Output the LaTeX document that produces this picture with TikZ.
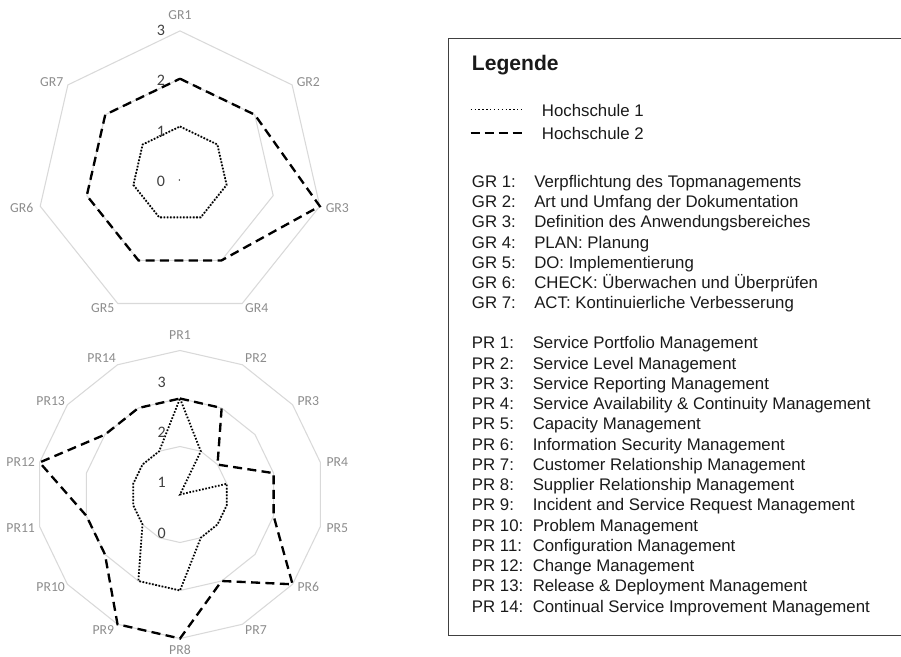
\documentclass[tikz,border=0pt]{standalone}
\usepackage{fontspec}
\setmainfont{Liberation Sans}
\newfontfamily\calfont{Carlito}
\definecolor{gridgray}{HTML}{D9D9D9}
\definecolor{labgray}{HTML}{8C8C8C}
\definecolor{numgray}{HTML}{404040}
\definecolor{legblack}{HTML}{1A1A1A}
\definecolor{boxgray}{HTML}{404040}
\begin{document}
\begin{tikzpicture}[x=0.75pt,y=-0.75pt,
  gridline/.style={draw=gridgray, line width=0.8pt},
  hsone/.style={draw=black, line width=1.35pt, dash pattern=on 1.2pt off 1.25pt},
  hstwo/.style={draw=black, line width=1.75pt, dash pattern=on 6.8pt off 4pt},
  hsoneleg/.style={draw=black, line width=1pt, dash pattern=on 1pt off 1.9pt},
  hstwoleg/.style={draw=black, line width=1.4pt, dash pattern=on 6.8pt off 3.7pt},
  axlab/.style={text=labgray, font=\calfont\fontsize{10.3}{12}\selectfont, inner sep=0pt},
  numlab/.style={text=numgray, font=\calfont\fontsize{12}{14}\selectfont, inner sep=0pt},
  legtext/.style={anchor=base west, inner sep=0pt, font=\fontsize{12.6}{14}\selectfont, text=legblack},
  legtitle/.style={anchor=base west, inner sep=0pt, font=\bfseries\fontsize{15.8}{18}\selectfont, text=legblack},
  legbox/.style={draw=boxgray, line width=1pt}
]
\useasboundingbox (0,0) rectangle (901,657);

% ---------------- top radar (GR) ----------------
\begin{scope}[shift={(180,174.3)},y=0.75pt]
  \foreach \lev in {1,2,3}{
    \draw[gridline] ({90}:{\lev*47.8}) \foreach \k in {1,...,6}{ -- ({90-\k*360/7}:{\lev*47.8})} -- cycle;
  }
  \foreach \v [count=\k] in {1,1,1,1,1,1,1}{
    \coordinate (ha\k) at ({90-(\k-1)*360/7}:{\v*47.8});
  }
  \foreach \v [count=\k] in {2,2,3,2,2,2,2}{
    \coordinate (hb\k) at ({90-(\k-1)*360/7}:{\v*47.8});
  }
  \draw[hsone] (ha1) -- (ha2) -- (ha3) -- (ha4) -- (ha5) -- (ha6) -- (ha7) -- cycle;
  \draw[hstwo] (hb1) -- (hb2) -- (hb3) -- (hb4) -- (hb5) -- (hb6) -- (hb7) -- cycle;
\end{scope}
\fill[black] (179.4,180) circle (0.7);

\node[axlab] (gr1) at (180,15) {GR1};
\node[axlab] (gr2) at (308.3,81.7) {GR2};
\node[axlab] (gr3) at (337.3,208.3) {GR3};
\node[axlab] (gr4) at (256.7,308.3) {GR4};
\node[axlab] (gr5) at (102.7,308.3) {GR5};
\node[axlab] (gr6) at (21.7,208.3) {GR6};
\node[axlab] (gr7) at (51.7,81.7) {GR7};

\node[numlab] (tn3) at (161,30.7) {3};
\node[numlab] (tn2) at (161,80) {2};
\node[numlab] (tn1) at (161,131) {1};
\node[numlab] (tn0) at (161,181) {0};

% ---------------- bottom radar (PR) ----------------
\begin{scope}[shift={(180,494.5)},y=0.75pt]
  \foreach \lev in {1,2,3}{
    \draw[gridline] ({90}:{\lev*48}) \foreach \k in {1,...,13}{ -- ({90-\k*360/14}:{\lev*48})} -- cycle;
  }
  \foreach \v [count=\k] in {2,1,0,1,1,1,1,2,2,1,1,1,1,1}{
    \coordinate (pa\k) at ({90-(\k-1)*360/14}:{\v*48});
  }
  \foreach \v [count=\k] in {2,2,1,2,2,3,2,3,3,2,2,3,2,2}{
    \coordinate (pb\k) at ({90-(\k-1)*360/14}:{\v*48});
  }
  \draw[hsone] (pa1) -- (pa2) -- (pa3) -- (pa4) -- (pa5) -- (pa6) -- (pa7) -- (pa8) -- (pa9) -- (pa10) -- (pa11) -- (pa12) -- (pa13) -- (pa14) -- cycle;
  \draw[hstwo] (pb1) -- (pb2) -- (pb3) -- (pb4) -- (pb5) -- (pb6) -- (pb7) -- (pb8) -- (pb9) -- (pb10) -- (pb11) -- (pb12) -- (pb13) -- (pb14) -- cycle;
\end{scope}

\node[axlab] (pr1) at (180,335) {PR1};
\node[axlab] (pr2) at (256,358.3) {PR2};
\node[axlab] (pr3) at (308.3,400.7) {PR3};
\node[axlab] (pr4) at (337.3,461.7) {PR4};
\node[axlab] (pr5) at (337.3,528.3) {PR5};
\node[axlab] (pr6) at (308.3,586.7) {PR6};
\node[axlab] (pr7) at (256,630) {PR7};
\node[axlab] (pr8) at (180,650) {PR8};
\node[axlab] (pr9) at (103.3,630) {PR9};
\node[axlab] (pr10) at (50.7,586.7) {PR10};
\node[axlab] (pr11) at (20.7,528.3) {PR11};
\node[axlab] (pr12) at (20.7,461.7) {PR12};
\node[axlab] (pr13) at (50.7,400.7) {PR13};
\node[axlab] (pr14) at (101.7,358.3) {PR14};

\node[numlab] (bn3) at (161.7,382.7) {3};
\node[numlab] (bn2) at (161.7,432.7) {2};
\node[numlab] (bn1) at (161.7,482.7) {1};
\node[numlab] (bn0) at (161.7,533) {0};

% ---------------- legend ----------------
\draw[legbox] (448.3,38.3) rectangle (906,635.7);
\node[legtitle] (legt) at (471.7,70) {Legende};

\coordinate (l1a) at (470.7,109.5);
\coordinate (l1b) at (521.7,109.5);
\coordinate (l2a) at (470.7,132.7);
\coordinate (l2b) at (521.7,132.7);
\draw[hsoneleg] (l1a) -- (l1b);
\draw[hstwoleg] (l2a) -- (l2b);
\node[legtext] (h1) at (541.7,116.2) {Hochschule 1};
\node[legtext] (h2) at (541.7,139.8) {Hochschule 2};

\foreach \t [count=\k] in {Verpflichtung des Topmanagements,
  Art und Umfang der Dokumentation,
  Definition des Anwendungsbereiches,
  PLAN: Planung,
  DO: Implementierung,
  CHECK: Überwachen und Überprüfen,
  ACT: Kontinuierliche Verbesserung}{
  \node[legtext] (gl\k) at (471.7,{187.2+(\k-1)*20.27}) {GR \k:};
  \node[legtext] (gd\k) at (534,{187.2+(\k-1)*20.27}) {\t};
}

\foreach \t [count=\k] in {Service Portfolio Management,
  Service Level Management,
  Service Reporting Management,
  Service Availability \& Continuity Management,
  Capacity Management,
  Information Security Management,
  Customer Relationship Management,
  Supplier Relationship Management,
  Incident and Service Request Management,
  Problem Management,
  Configuration Management,
  Change Management,
  Release \& Deployment Management,
  Continual Service Improvement Management}{
  \node[legtext] (pl\k) at (471.7,{348.8+(\k-1)*20.26}) {PR \k:};
  \node[legtext] (pd\k) at (532.5,{348.8+(\k-1)*20.26}) {\t};
}
\end{tikzpicture}
\end{document}
